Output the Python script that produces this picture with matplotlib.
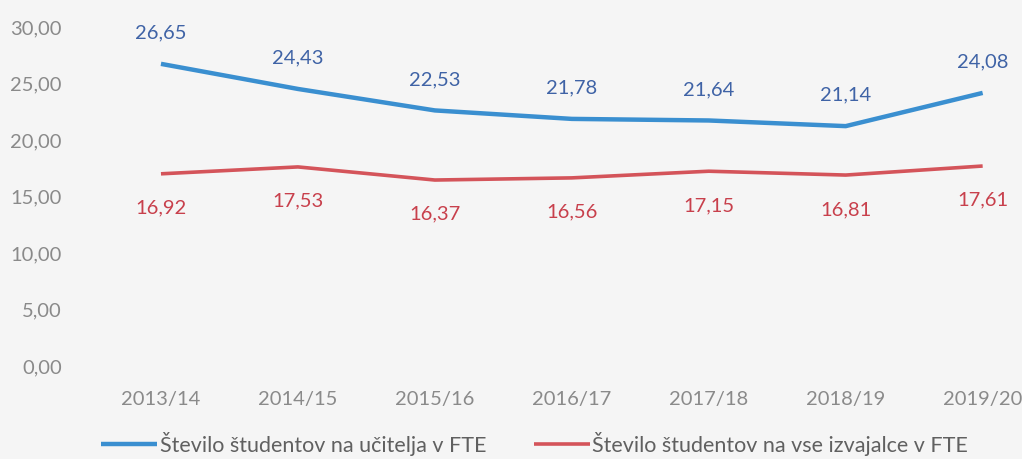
import matplotlib
matplotlib.use("Agg")
import matplotlib.pyplot as plt

years = ["2013/14", "2014/15", "2015/16", "2016/17", "2017/18", "2018/19", "2019/20"]
teachers = [26.65, 24.43, 22.53, 21.78, 21.64, 21.14, 24.08]
all_staff = [16.92, 17.53, 16.37, 16.56, 17.15, 16.81, 17.61]
label_teachers = "Število študentov na učitelja v FTE"
label_all = "Število študentov na vse izvajalce v FTE"
yticks = [0, 5, 10, 15, 20, 25, 30]

plt.rcParams['font.family'] = ['Lato', 'DejaVu Sans']
bg = "#f5f5f5"
fig = plt.figure(figsize=(10.22, 4.6), dpi=100, facecolor=bg)
ax = fig.add_axes([0.0905, 0.2043, 0.938, 0.737], facecolor=bg)

x = list(range(len(years)))
blue = "#3a8fd0"
red = "#d4545a"
l1, = ax.plot(x, teachers, color=blue, lw=3.2, solid_capstyle='butt', label=label_teachers)
l2, = ax.plot(x, all_staff, color=red, lw=2.6, solid_capstyle='butt', label=label_all)

for xi, v in zip(x, teachers):
    ax.annotate(f"{v:.2f}".replace(".", ","), (xi, v), xytext=(0, 23), textcoords="offset points",
                ha="center", va="center", color="#3f63a6", fontsize=14.5)
for xi, v in zip(x, all_staff):
    ax.annotate(f"{v:.2f}".replace(".", ","), (xi, v), xytext=(0, -24), textcoords="offset points",
                ha="center", va="center", color="#c8404c", fontsize=14.5)

ax.set_xlim(-0.5, len(years) - 0.5)
ax.set_ylim(0, 30)
ax.set_yticks(yticks)
ax.set_yticklabels([f"{t:.2f}".replace(".", ",") for t in yticks])
ax.set_xticks(x)
ax.set_xticklabels(years)
ax.tick_params(axis="both", length=0, colors="#8a8a8a", labelsize=14.5)
ax.tick_params(axis="y", pad=22)
ax.tick_params(axis="x", pad=18)
for s in ax.spines.values():
    s.set_visible(False)

fig.legend(handles=[l1, l2], loc="lower left", bbox_to_anchor=(0.08, -0.034), ncol=2,
           frameon=False, fontsize=15.5, handlelength=2.6, handletextpad=0.12,
           columnspacing=2.2, labelcolor="#606060")

fig.savefig("out.png", dpi=100, facecolor=bg)
